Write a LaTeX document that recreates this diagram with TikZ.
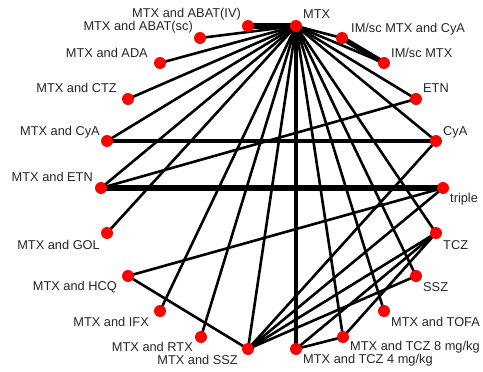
\documentclass[tikz,border=0pt]{standalone}
\usepackage{fontspec}
\setmainfont{Liberation Sans}
\begin{document}
\begin{tikzpicture}[x=1pt,y=-1pt,
  dot/.style={circle,fill=red,inner sep=0pt,minimum size=12pt},
  lab/.style={font=\fontsize{12.8}{14}\selectfont,text=black!85,inner sep=0pt},
  edge/.style={line width=2.6pt,black},
  thk/.style={line width=4.2pt,black},
  thkk/.style={line width=5.2pt,black}]
\useasboundingbox (0,0) rectangle (483,372);
% nodes (drawn later on top)
\coordinate (mtx) at (296,26);
\coordinate (abiv) at (248,26);
\coordinate (absc) at (200,38);
\coordinate (imcya) at (342,38);
\coordinate (ada) at (160,63);
\coordinate (immtx) at (384,63);
\coordinate (ctz) at (128,99);
\coordinate (etn) at (416,99);
\coordinate (mcya) at (107,141);
\coordinate (cya) at (436,141);
\coordinate (metn) at (101,188);
\coordinate (tri) at (443,188);
\coordinate (gol) at (107,233);
\coordinate (tcz) at (436,233);
\coordinate (hcq) at (128,276);
\coordinate (ssz) at (416,276);
\coordinate (ifx) at (160,311);
\coordinate (tofa) at (384,311);
\coordinate (rtx) at (201,337);
\coordinate (tcz8) at (343,337);
\coordinate (mssz) at (248,349);
\coordinate (tcz4) at (296,349);
% edges
\draw[thkk] (mtx) -- (abiv);
\foreach \t in {absc,ada,ctz,mcya,metn,gol,ifx,rtx,mssz,tcz8,tofa,ssz,tcz,cya,etn,imcya,immtx}
  \draw[edge] (mtx) -- (\t);
\draw[thk] (mtx) -- (tcz4);
\draw[thkk] (imcya) -- (immtx);
\draw[thk] (mcya) -- (cya);
\draw[thkk] (metn) -- (tri);
\draw[edge] (metn) -- (etn);
\draw[edge] (hcq) -- (tri);
\draw[edge] (hcq) -- (mssz);
\foreach \t in {cya,tri,tcz,ssz}
  \draw[edge] (mssz) -- (\t);
\draw[edge] (tcz4) -- (tcz8);
\draw[edge] (tcz4) -- (tcz);
\draw[edge] (tcz8) -- (tcz);
% dots
\foreach \n in {mtx,abiv,absc,imcya,ada,immtx,ctz,etn,mcya,cya,metn,tri,gol,tcz,hcq,ssz,ifx,tofa,rtx,tcz8,mssz,tcz4}
  \node[dot] (d\n) at (\n) {};
% labels
\node[lab,anchor=east] (l1) at (241,14) {MTX and ABAT(IV)};
\node[lab,anchor=west] (l2) at (303,14) {MTX};
\node[lab,anchor=east] (l3) at (193,27) {MTX and ABAT(sc)};
\node[lab,anchor=west] (l4) at (351,29) {IM/sc MTX and CyA};
\node[lab,anchor=east] (l5) at (148,53) {MTX and ADA};
\node[lab,anchor=west] (l6) at (391,53) {IM/sc MTX};
\node[lab,anchor=east] (l7) at (117,88) {MTX and CTZ};
\node[lab,anchor=west] (l8) at (423,88) {ETN};
\node[lab,anchor=east] (l9) at (100,132) {MTX and CyA};
\node[lab,anchor=west] (l10) at (443,132) {CyA};
\node[lab,anchor=east] (l11) at (93,177) {MTX and ETN};
\node[lab,anchor=west] (l12) at (450,199) {triple};
\node[lab,anchor=east] (l13) at (100,245) {MTX and GOL};
\node[lab,anchor=west] (l14) at (443,245) {TCZ};
\node[lab,anchor=east] (l15) at (117,287) {MTX and HCQ};
\node[lab,anchor=west] (l16) at (423,287) {SSZ};
\node[lab,anchor=east] (l17) at (149,322) {MTX and IFX};
\node[lab,anchor=west] (l18) at (391,322) {MTX and TOFA};
\node[lab,anchor=east] (l19) at (193,347) {MTX and RTX};
\node[lab,anchor=west] (l20) at (350,347) {MTX and TCZ 8 mg/kg};
\node[lab,anchor=east] (l21) at (238,360) {MTX and SSZ};
\node[lab,anchor=west] (l22) at (303,360) {MTX and TCZ 4 mg/kg};
\end{tikzpicture}
\end{document}
